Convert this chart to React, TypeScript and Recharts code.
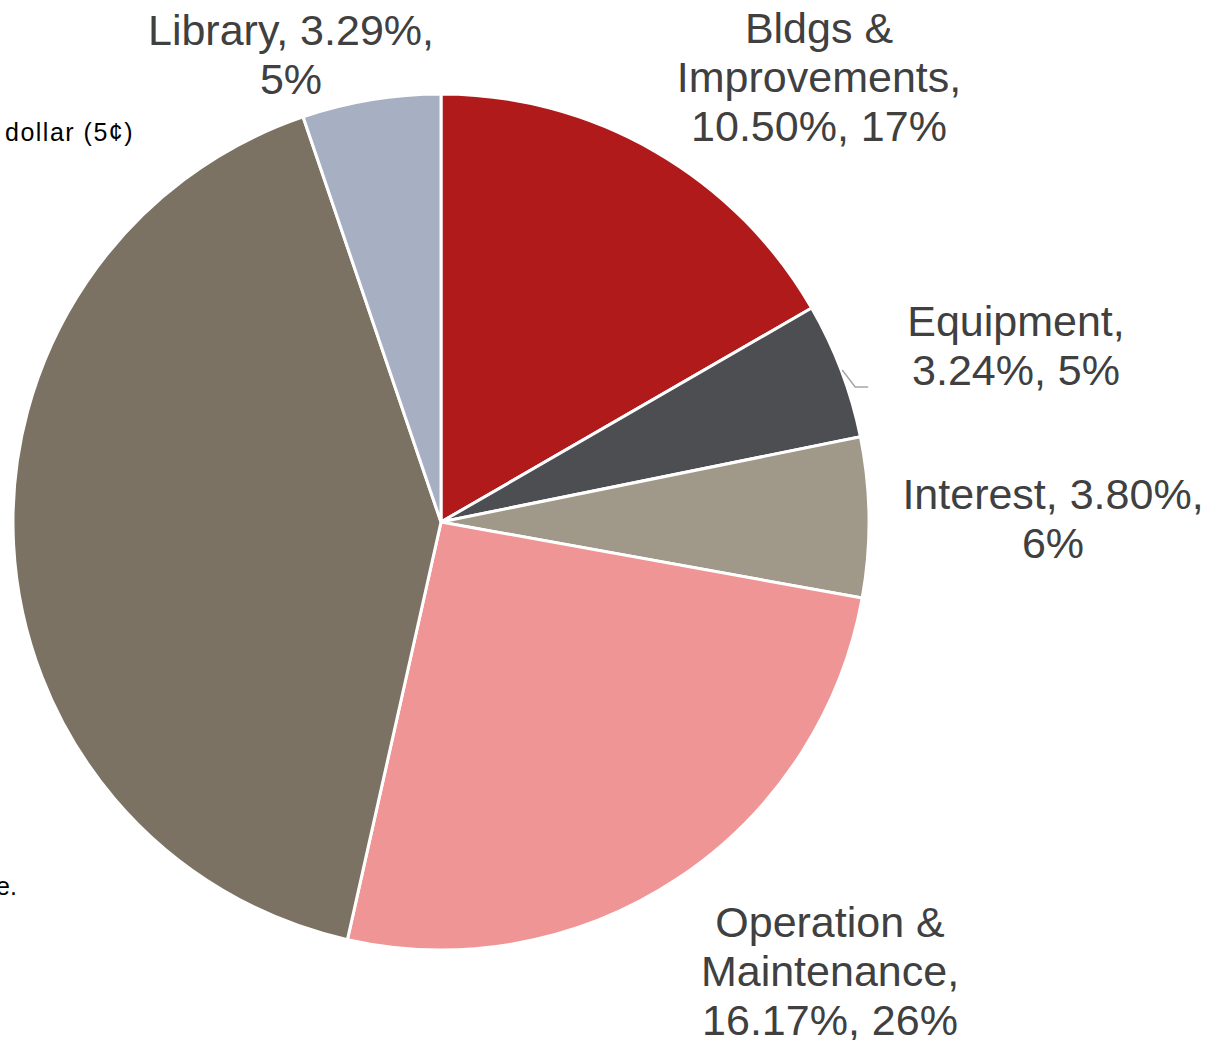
import React from "react";
import { PieChart, Pie, Cell } from "recharts";

const categories = ["Bldgs & Improvements", "Equipment", "Interest", "Operation & Maintenance", "Other", "Library"];
const values = [10.5, 3.24, 3.8, 16.17, 26.0, 3.29];
const shares = ["17%", "5%", "6%", "26%", "41%", "5%"];
const valueLabels = ["10.50%", "3.24%", "3.80%", "16.17%", "", "3.29%"];
const colors = ["#B01A1A", "#4D4E52", "#A09888", "#EF9595", "#7B7263", "#A7AFC2"];

const data = categories.map((name, i) => ({ name, value: values[i] }));

// label layout: lines and anchor (center x, first baseline y)
const labelLayout: Record<string, { lines: string[]; x: number; y: number }> = {
  "Bldgs & Improvements": { lines: ["Bldgs &", "Improvements,", `${valueLabels[0]}, ${shares[0]}`], x: 819, y: 43 },
  Equipment: { lines: ["Equipment,", `${valueLabels[1]}, ${shares[1]}`], x: 1016, y: 336 },
  Interest: { lines: [`Interest, ${valueLabels[2]},`, shares[2]], x: 1053, y: 509 },
  "Operation & Maintenance": { lines: ["Operation &", "Maintenance,", `${valueLabels[3]}, ${shares[3]}`], x: 830, y: 937 },
  Library: { lines: [`Library, ${valueLabels[5]},`, shares[5]], x: 291, y: 45 },
};

const LINE_H = 49;
const FONT = '"Liberation Sans", Arial, sans-serif';

const renderLabel = (props: any) => {
  const { name, cx, cy, midAngle, outerRadius } = props;
  const layout = labelLayout[name];
  if (!layout) return null;
  const RAD = Math.PI / 180;
  let leader = null;
  if (name === "Equipment") {
    const sx = cx + (outerRadius + 1) * Math.cos(-midAngle * RAD);
    const sy = cy + (outerRadius + 1) * Math.sin(-midAngle * RAD);
    leader = (
      <polyline
        points={`${sx},${sy} ${sx + 13},${sy + 17} ${sx + 26},${sy + 17}`}
        fill="none"
        stroke="#A6A6A6"
        strokeWidth={1.5}
      />
    );
  }
  return (
    <g>
      {leader}
      <text x={layout.x} y={layout.y} textAnchor="middle" fill="#404040" style={{ fontFamily: FONT, fontSize: 43 }}>
        {layout.lines.map((l, i) => (
          <tspan key={i} x={layout.x} y={layout.y + i * LINE_H}>
            {l}
          </tspan>
        ))}
      </text>
    </g>
  );
};

export default function App() {
  return (
    <div style={{ position: "absolute", left: 0, top: 0, width: 1213, height: 1040, background: "#fff", overflow: "hidden" }}>
      <PieChart width={1213} height={1040} margin={{ top: 0, right: 0, bottom: 0, left: 0 }}>
        <Pie
          data={data}
          dataKey="value"
          nameKey="name"
          cx={441}
          cy={522}
          outerRadius={428}
          startAngle={90}
          endAngle={-270}
          stroke="#FFFFFF"
          strokeWidth={3}
          label={renderLabel}
          labelLine={false}
          isAnimationActive={false}
        >
          {data.map((d, i) => (
            <Cell key={d.name} fill={colors[i]} />
          ))}
        </Pie>
        <text x={5} y={141} fill="#000" style={{ fontFamily: FONT, fontSize: 25, letterSpacing: 1.5 }}>
          dollar (5¢)
        </text>
        <text x={-4} y={895} fill="#000" style={{ fontFamily: FONT, fontSize: 25 }}>
          e.
        </text>
      </PieChart>
    </div>
  );
}
